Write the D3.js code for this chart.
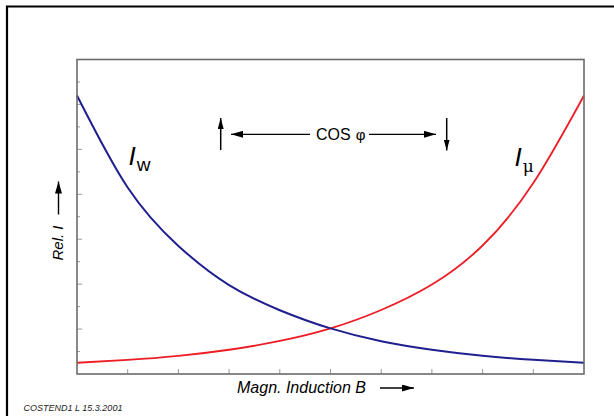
<!DOCTYPE html>
<meta charset="utf-8">
<style>
  body { margin: 0; background: #fff; }
  svg { display: block; font-family: "Liberation Sans", Arial, sans-serif; }
  .tick-line { stroke: #999; stroke-width: 1; }
</style>
<svg width="614" height="416"></svg>
<script src="https://cdn.jsdelivr.net/npm/d3@7"></script>
<script>
// magnetic induction B (relative steps) and relative currents
var induction = [0, 1, 2, 3, 4, 5, 6, 7, 8, 9, 10];
var iw  = [12.4, 8.3, 5.7, 3.96, 2.84, 2.03, 1.46, 1.08, 0.81, 0.63, 0.5];   // I_w
var imu = [0.5, 0.63, 0.81, 1.08, 1.47, 2.03, 2.85, 3.98, 5.72, 8.5, 12.4];  // I_mu
var yTicks = d3.range(0, 15);   // 0..14, long tick every 2
var xTicks = d3.range(1, 10);

var svg = d3.select("svg"),
    box = {left: 77, right: 584, top: 59.5, bottom: 374};

var x = d3.scaleLinear().domain([0, 10]).range([box.left, box.right]),
    y = d3.scaleLinear().domain([0, 14]).range([box.bottom, box.top]);

// outer frame (only top and left edges are visible)
svg.append("path")
    .attr("d", "M7,416 V6.5 H614")
    .attr("fill", "none").attr("stroke", "#000").attr("stroke-width", 2.2);

var defs = svg.append("defs");
defs.append("marker")
    .attr("id", "head")
    .attr("viewBox", "0 0 12 7")
    .attr("refX", 12).attr("refY", 3.5)
    .attr("markerWidth", 12).attr("markerHeight", 7)
    .attr("markerUnits", "userSpaceOnUse")
    .attr("orient", "auto")
  .append("path").attr("d", "M0,0 L12,3.5 L0,7 Z").attr("fill", "#000");
defs.append("marker")
    .attr("id", "headSmall")
    .attr("viewBox", "0 0 11 6")
    .attr("refX", 11).attr("refY", 3)
    .attr("markerWidth", 11).attr("markerHeight", 6)
    .attr("markerUnits", "userSpaceOnUse")
    .attr("orient", "auto")
  .append("path").attr("d", "M0,0 L11,3 L0,6 Z").attr("fill", "#000");

// inward ticks
svg.append("g").selectAll("line").data(xTicks).enter().append("line")
    .attr("class", "tick-line")
    .attr("x1", function(d) { return x(d); }).attr("x2", function(d) { return x(d); })
    .attr("y1", box.bottom).attr("y2", box.bottom - 5);

svg.append("g").selectAll("line").data(yTicks.slice(1, -1)).enter().append("line")
    .attr("class", "tick-line")
    .attr("x1", box.left).attr("x2", function(d) { return box.left + (d % 2 === 0 ? 5 : 3); })
    .attr("y1", function(d) { return y(d); }).attr("y2", function(d) { return y(d); });

// curves
var line = d3.line()
    .x(function(d, i) { return x(induction[i]); })
    .y(function(d) { return y(d); })
    .curve(d3.curveNatural);

svg.append("path").datum(imu)
    .attr("d", line).attr("fill", "none")
    .attr("stroke", "#ee1c25").attr("stroke-width", 1.8);
svg.append("path").datum(iw)
    .attr("d", line).attr("fill", "none")
    .attr("stroke", "#1f1f8f").attr("stroke-width", 2);

// plot box
svg.append("rect")
    .attr("x", box.left).attr("y", box.top)
    .attr("width", box.right - box.left).attr("height", box.bottom - box.top)
    .attr("fill", "none").attr("stroke", "#6b6b6b").attr("stroke-width", 1.6);

// curve labels
var lw = svg.append("text").attr("x", 128.5).attr("y", 165);
lw.append("tspan").attr("font-size", 26).attr("font-style", "italic").text("I");
lw.append("tspan").attr("font-size", 19).attr("dx", 1).attr("dy", 6).text("w");

var lm = svg.append("text").attr("x", 514.5).attr("y", 166);
lm.append("tspan").attr("font-size", 26).attr("font-style", "italic").text("I");
lm.append("tspan").attr("font-size", 17).attr("font-family", "'DejaVu Serif', serif")
    .attr("dx", 1).attr("dy", 6).text("μ");

// cos phi annotation
var ay = y(10.67);
svg.append("line").attr("x1", 220.7).attr("x2", 220.7).attr("y1", 150).attr("y2", 118)
    .attr("stroke", "#000").attr("stroke-width", 1.5).attr("marker-end", "url(#headSmall)");
svg.append("line").attr("x1", 310).attr("x2", 231).attr("y1", ay).attr("y2", ay)
    .attr("stroke", "#000").attr("stroke-width", 1.3).attr("marker-end", "url(#head)");
svg.append("line").attr("x1", 369).attr("x2", 436).attr("y1", ay).attr("y2", ay)
    .attr("stroke", "#000").attr("stroke-width", 1.3).attr("marker-end", "url(#head)");
svg.append("line").attr("x1", 446.7).attr("x2", 446.7).attr("y1", 118).attr("y2", 150.5)
    .attr("stroke", "#000").attr("stroke-width", 1.5).attr("marker-end", "url(#headSmall)");
var cp = svg.append("text").attr("x", 316).attr("y", 139.5).attr("font-size", 16);
cp.append("tspan").text("COS");
cp.append("tspan").attr("dx", 5).attr("font-size", 15).text("φ");

// axis titles
var yl = svg.append("g").attr("transform", "translate(63,260.5) rotate(-90)");
yl.append("text").attr("font-size", 15).attr("font-style", "italic").text("Rel. I");
yl.append("line").attr("x1", 46).attr("x2", 79).attr("y1", -4.5).attr("y2", -4.5)
    .attr("stroke", "#000").attr("stroke-width", 1.4).attr("marker-end", "url(#head)");

svg.append("text").attr("x", 237).attr("y", 393)
    .attr("font-size", 16).attr("font-style", "italic").text("Magn. Induction B");
svg.append("line").attr("x1", 380).attr("x2", 414).attr("y1", 388).attr("y2", 388)
    .attr("stroke", "#000").attr("stroke-width", 1.4).attr("marker-end", "url(#head)");

svg.append("text").attr("x", 23.5).attr("y", 410.5)
    .attr("font-size", 9).attr("font-style", "italic").attr("fill", "#222")
    .text("COSTEND1 L 15.3.2001");
</script>
